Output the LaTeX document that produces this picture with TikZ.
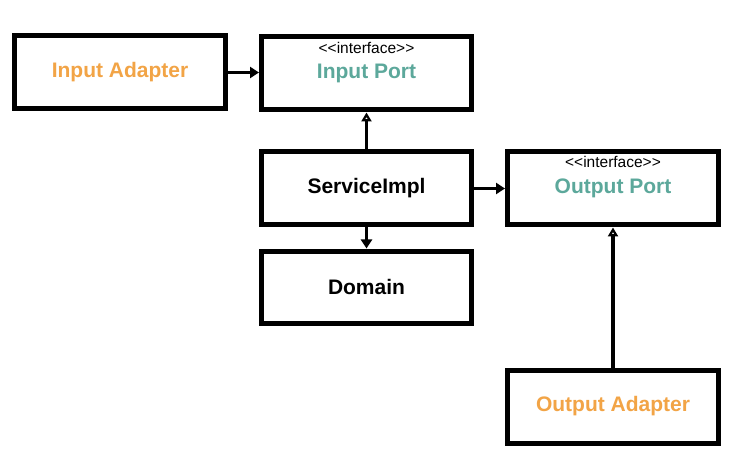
\documentclass[tikz,border=0pt]{standalone}
\usepackage{fontspec}
\setmainfont{Liberation Sans}
\usepackage{tikz}
\usetikzlibrary{arrows.meta}
\definecolor{adapterorange}{RGB}{242,164,70}
\definecolor{portteal}{RGB}{92,168,155}
\tikzset{
  px/.style={x={(1pt,0pt)}, y={(0pt,-1pt)}},
  box/.style={draw=black, line width=5pt, fill=white, inner sep=0pt,
    font=\fontsize{21}{24}\selectfont\bfseries},
  wbox/.style={box, minimum width=211pt, minimum height=73pt},
  adapter/.style={wbox, text=adapterorange},
  port/.style={wbox, text=portteal},
  plain/.style={wbox, text=black},
  stereo/.style={font=\fontsize{15.5}{18}\selectfont, text=black, inner sep=0pt},
  dep/.style={black, line width=3.5pt, -{Triangle[length=9pt, width=11pt]}},      % uses / calls
  impl/.style={black, line width=3.5pt, -{Triangle[open, length=9pt, width=10pt, line width=2.5pt]}}, % implements
}

\begin{document}
\begin{tikzpicture}[px]
  \useasboundingbox (0,0) rectangle (738,462);

  % --- left column: adapter and input port ---
  \node[adapter] (inadapter) at (120,72.5) {Input Adapter};
  \node[port, minimum width=210pt] (inport) at (366.5,73.5) {Input Port};
  \node[stereo] (inportst) at (366.5,48) {{<}{<}interface{>}{>}};

  % --- application core ---
  \node[plain, minimum width=210pt] (service) at (366.5,188.5) {ServiceImpl};
  \node[plain, minimum width=210pt, minimum height=72pt] (domain) at (366.5,287) {Domain};

  % --- right column: output port and adapter ---
  \node[port] (outport) at (613,188.5) {Output Port};
  \node[stereo] (outportst) at (613,162) {{<}{<}interface{>}{>}};
  \node[adapter] (outadapter) at (613,406.5) {Output Adapter};

  % --- connectors ---
  \draw[dep] (inadapter.east) -- (inport.west |- inadapter.east);
  \draw[impl] (service.north) -- (inport.south);
  \draw[dep] (service.south) -- (domain.north);
  \draw[dep] (service.east) -- (outport.west);
  \draw[impl] (outadapter.north) -- (outport.south);
\end{tikzpicture}
\end{document}
